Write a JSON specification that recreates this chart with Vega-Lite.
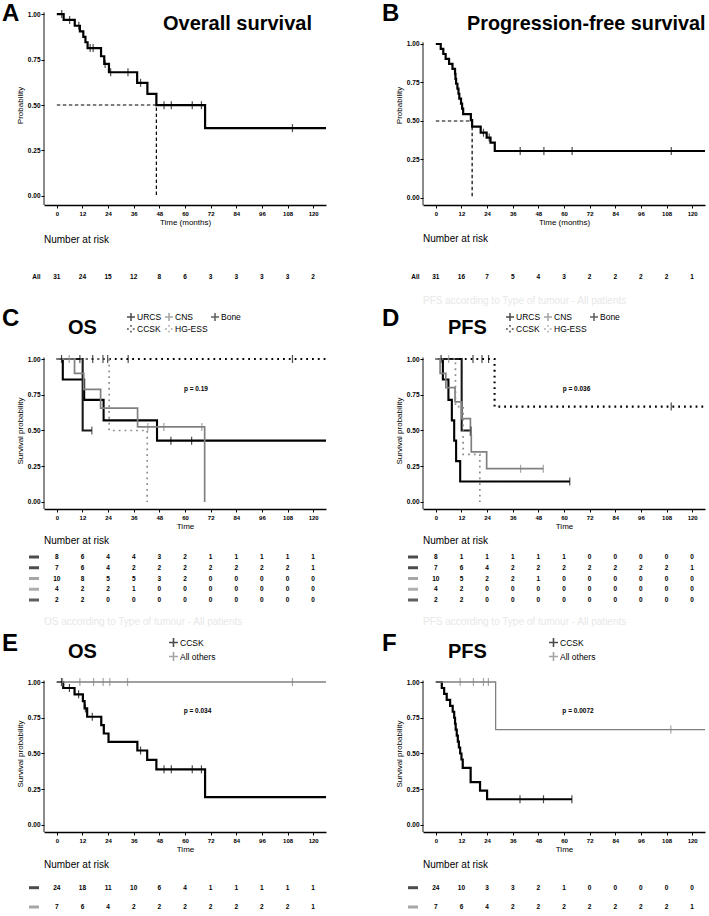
{
"$schema":"https://vega.github.io/schema/vega-lite/v6.json",
"padding":{"left":1,"top":1,"right":0,"bottom":0},
"background":"white",
"config":{
 "view":{"stroke":null},
 "font":"Liberation Sans",
 "axis":{"domainColor":"#000","domainWidth":1.3,"tickColor":"#000","tickSize":3,"tickWidth":1,"tickCount":30,"labelFont":"Liberation Sans","labelFontSize":6.5,"labelFontWeight":"bold","labelColor":"#000","labelPadding":2,"titleFont":"Liberation Sans","titleFontSize":8,"titleFontWeight":"normal","titleColor":"#000","titlePadding":3,"grid":false,"labelFlush":false,"labelOverlap":false,"labelBound":false},
 "axisX":{"labelFontSize":6,"titlePadding":2},
 "axisY":{"labelPadding":1},
 "legend":{"padding":0,"labelFont":"Liberation Sans","labelColor":"#000","labelFontSize":8.5,"labelOffset":1},
 "title":{"font":"Liberation Sans","fontSize":10,"fontWeight":"normal","color":"#000","anchor":"start","frame":"group","subtitleFont":"Liberation Sans","subtitleFontSize":10,"subtitleColor":"#e8e8e8"},
 "text":{"font":"Liberation Sans","color":"#000"}
},
"datasets":{
"km":[
{"panel":"A","strata":"All","time":0,"surv":1},{"panel":"A","strata":"All","time":3.2,"surv":0.968},{"panel":"A","strata":"All","time":8.4,"surv":0.936},{"panel":"A","strata":"All","time":10.8,"surv":0.905},{"panel":"A","strata":"All","time":12.4,"surv":0.875},{"panel":"A","strata":"All","time":13.4,"surv":0.845},{"panel":"A","strata":"All","time":14.4,"surv":0.813},{"panel":"A","strata":"All","time":20.7,"surv":0.768},{"panel":"A","strata":"All","time":22.2,"surv":0.726},{"panel":"A","strata":"All","time":24.4,"surv":0.68},{"panel":"A","strata":"All","time":37.6,"surv":0.622},{"panel":"A","strata":"All","time":42.4,"surv":0.561},{"panel":"A","strata":"All","time":46.6,"surv":0.499},{"panel":"A","strata":"All","time":69.4,"surv":0.373},{"panel":"A","strata":"All","time":126,"surv":0.373},
{"panel":"B","strata":"All","time":0,"surv":1},{"panel":"B","strata":"All","time":2.3,"surv":0.968},{"panel":"B","strata":"All","time":3.5,"surv":0.935},{"panel":"B","strata":"All","time":4.6,"surv":0.903},{"panel":"B","strata":"All","time":6.2,"surv":0.871},{"panel":"B","strata":"All","time":7.8,"surv":0.839},{"panel":"B","strata":"All","time":9.0,"surv":0.806},{"panel":"B","strata":"All","time":9.2,"surv":0.774},{"panel":"B","strata":"All","time":9.5,"surv":0.742},{"panel":"B","strata":"All","time":10.1,"surv":0.71},{"panel":"B","strata":"All","time":10.6,"surv":0.677},{"panel":"B","strata":"All","time":11.0,"surv":0.645},{"panel":"B","strata":"All","time":11.8,"surv":0.613},{"panel":"B","strata":"All","time":12.3,"surv":0.58},{"panel":"B","strata":"All","time":12.8,"surv":0.545},{"panel":"B","strata":"All","time":16.4,"surv":0.505},{"panel":"B","strata":"All","time":17.0,"surv":0.464},{"panel":"B","strata":"All","time":21.0,"surv":0.424},{"panel":"B","strata":"All","time":23.8,"surv":0.392},{"panel":"B","strata":"All","time":25.6,"surv":0.36},{"panel":"B","strata":"All","time":27.6,"surv":0.305},{"panel":"B","strata":"All","time":126,"surv":0.305},
{"panel":"C","strata":"URCS","time":0,"surv":1},{"panel":"C","strata":"URCS","time":2.8,"surv":0.857},{"panel":"C","strata":"URCS","time":12.8,"surv":0.714},{"panel":"C","strata":"URCS","time":21.9,"surv":0.571},{"panel":"C","strata":"URCS","time":46.9,"surv":0.429},{"panel":"C","strata":"URCS","time":126,"surv":0.429},
{"panel":"C","strata":"CNS","time":0,"surv":1},{"panel":"C","strata":"CNS","time":8.3,"surv":0.9},{"panel":"C","strata":"CNS","time":12.6,"surv":0.787},{"panel":"C","strata":"CNS","time":20.5,"surv":0.656},{"panel":"C","strata":"CNS","time":37.8,"surv":0.525},{"panel":"C","strata":"CNS","time":69.2,"surv":0},
{"panel":"C","strata":"Bone","time":0,"surv":1},{"panel":"C","strata":"Bone","time":12.1,"surv":0.5},{"panel":"C","strata":"Bone","time":16.4,"surv":0.5},
{"panel":"C","strata":"CCSK","time":0,"surv":1},{"panel":"C","strata":"CCSK","time":126,"surv":1},
{"panel":"C","strata":"HG-ESS","time":0,"surv":1},{"panel":"C","strata":"HG-ESS","time":24.5,"surv":0.5},{"panel":"C","strata":"HG-ESS","time":42.3,"surv":0},
{"panel":"D","strata":"URCS","time":0,"surv":1},{"panel":"D","strata":"URCS","time":3.3,"surv":0.857},{"panel":"D","strata":"URCS","time":5.9,"surv":0.714},{"panel":"D","strata":"URCS","time":7.5,"surv":0.571},{"panel":"D","strata":"URCS","time":8.6,"surv":0.429},{"panel":"D","strata":"URCS","time":9.5,"surv":0.286},{"panel":"D","strata":"URCS","time":11.4,"surv":0.143},{"panel":"D","strata":"URCS","time":62.7,"surv":0.143},
{"panel":"D","strata":"CNS","time":0,"surv":1},{"panel":"D","strata":"CNS","time":2.0,"surv":0.9},{"panel":"D","strata":"CNS","time":4.7,"surv":0.8},{"panel":"D","strata":"CNS","time":9.0,"surv":0.7},{"panel":"D","strata":"CNS","time":12.1,"surv":0.583},{"panel":"D","strata":"CNS","time":16.2,"surv":0.467},{"panel":"D","strata":"CNS","time":16.6,"surv":0.35},{"panel":"D","strata":"CNS","time":23.8,"surv":0.233},{"panel":"D","strata":"CNS","time":50.3,"surv":0.233},
{"panel":"D","strata":"Bone","time":0,"surv":1},{"panel":"D","strata":"Bone","time":12.1,"surv":0.5},{"panel":"D","strata":"Bone","time":16.5,"surv":0.5},
{"panel":"D","strata":"CCSK","time":0,"surv":1},{"panel":"D","strata":"CCSK","time":27.5,"surv":0.667},{"panel":"D","strata":"CCSK","time":126,"surv":0.667},
{"panel":"D","strata":"HG-ESS","time":0,"surv":1},{"panel":"D","strata":"HG-ESS","time":9.2,"surv":0.667},{"panel":"D","strata":"HG-ESS","time":12.8,"surv":0.333},{"panel":"D","strata":"HG-ESS","time":20.6,"surv":0},
{"panel":"E","strata":"CCSK","time":0,"surv":1},{"panel":"E","strata":"CCSK","time":3.0,"surv":0.958},{"panel":"E","strata":"CCSK","time":8.3,"surv":0.914},{"panel":"E","strata":"CCSK","time":12.2,"surv":0.866},{"panel":"E","strata":"CCSK","time":13.0,"surv":0.815},{"panel":"E","strata":"CCSK","time":14.2,"surv":0.757},{"panel":"E","strata":"CCSK","time":20.8,"surv":0.699},{"panel":"E","strata":"CCSK","time":22.0,"surv":0.64},{"panel":"E","strata":"CCSK","time":24.2,"surv":0.582},{"panel":"E","strata":"CCSK","time":37.7,"surv":0.521},{"panel":"E","strata":"CCSK","time":42.3,"surv":0.456},{"panel":"E","strata":"CCSK","time":46.6,"surv":0.389},{"panel":"E","strata":"CCSK","time":69.4,"surv":0.195},{"panel":"E","strata":"CCSK","time":126,"surv":0.195},
{"panel":"E","strata":"All others","time":0,"surv":1},{"panel":"E","strata":"All others","time":126,"surv":1},
{"panel":"F","strata":"CCSK","time":0,"surv":1},{"panel":"F","strata":"CCSK","time":2.8,"surv":0.958},{"panel":"F","strata":"CCSK","time":3.9,"surv":0.917},{"panel":"F","strata":"CCSK","time":5.1,"surv":0.875},{"panel":"F","strata":"CCSK","time":6.7,"surv":0.833},{"panel":"F","strata":"CCSK","time":7.9,"surv":0.792},{"panel":"F","strata":"CCSK","time":8.6,"surv":0.75},{"panel":"F","strata":"CCSK","time":9.0,"surv":0.708},{"panel":"F","strata":"CCSK","time":9.3,"surv":0.667},{"panel":"F","strata":"CCSK","time":9.8,"surv":0.625},{"panel":"F","strata":"CCSK","time":10.3,"surv":0.583},{"panel":"F","strata":"CCSK","time":10.8,"surv":0.542},{"panel":"F","strata":"CCSK","time":11.4,"surv":0.5},{"panel":"F","strata":"CCSK","time":12.0,"surv":0.458},{"panel":"F","strata":"CCSK","time":12.6,"surv":0.4},{"panel":"F","strata":"CCSK","time":16.3,"surv":0.3},{"panel":"F","strata":"CCSK","time":20.7,"surv":0.24},{"panel":"F","strata":"CCSK","time":24.0,"surv":0.18},{"panel":"F","strata":"CCSK","time":63.7,"surv":0.18},
{"panel":"F","strata":"All others","time":0,"surv":1},{"panel":"F","strata":"All others","time":28.0,"surv":0.667},{"panel":"F","strata":"All others","time":126,"surv":0.667}
],
"cens":[
{"panel":"A","strata":"All","time":2.3,"surv":1},{"panel":"A","strata":"All","time":6.0,"surv":0.968},{"panel":"A","strata":"All","time":10.3,"surv":0.936},{"panel":"A","strata":"All","time":15.6,"surv":0.813},{"panel":"A","strata":"All","time":17.0,"surv":0.813},{"panel":"A","strata":"All","time":22.6,"surv":0.726},{"panel":"A","strata":"All","time":25.2,"surv":0.68},{"panel":"A","strata":"All","time":33.3,"surv":0.68},{"panel":"A","strata":"All","time":39.2,"surv":0.622},{"panel":"A","strata":"All","time":50.2,"surv":0.499},{"panel":"A","strata":"All","time":53.6,"surv":0.499},{"panel":"A","strata":"All","time":63.4,"surv":0.499},{"panel":"A","strata":"All","time":67.7,"surv":0.499},{"panel":"A","strata":"All","time":110.3,"surv":0.373},
{"panel":"B","strata":"All","time":22.3,"surv":0.424},{"panel":"B","strata":"All","time":25.0,"surv":0.392},{"panel":"B","strata":"All","time":39.5,"surv":0.305},{"panel":"B","strata":"All","time":50.6,"surv":0.305},{"panel":"B","strata":"All","time":63.8,"surv":0.305},{"panel":"B","strata":"All","time":110.2,"surv":0.305},
{"panel":"C","strata":"URCS","time":2.2,"surv":1},{"panel":"C","strata":"URCS","time":53.4,"surv":0.429},{"panel":"C","strata":"URCS","time":63.1,"surv":0.429},
{"panel":"C","strata":"CNS","time":5.8,"surv":1},{"panel":"C","strata":"CNS","time":42.6,"surv":0.525},{"panel":"C","strata":"CNS","time":50.1,"surv":0.525},{"panel":"C","strata":"CNS","time":67.9,"surv":0.525},
{"panel":"C","strata":"Bone","time":16.4,"surv":0.5},
{"panel":"C","strata":"CCSK","time":10.8,"surv":1},{"panel":"C","strata":"CCSK","time":16.8,"surv":1},{"panel":"C","strata":"CCSK","time":21.6,"surv":1},{"panel":"C","strata":"CCSK","time":23.8,"surv":1},{"panel":"C","strata":"CCSK","time":33.4,"surv":1},{"panel":"C","strata":"CCSK","time":110.3,"surv":1},
{"panel":"D","strata":"URCS","time":2.5,"surv":1},{"panel":"D","strata":"URCS","time":62.7,"surv":0.143},
{"panel":"D","strata":"CNS","time":39.7,"surv":0.233},{"panel":"D","strata":"CNS","time":50.3,"surv":0.233},
{"panel":"D","strata":"Bone","time":16.5,"surv":0.5},
{"panel":"D","strata":"CCSK","time":17.4,"surv":1},{"panel":"D","strata":"CCSK","time":21.6,"surv":1},{"panel":"D","strata":"CCSK","time":24.7,"surv":1},{"panel":"D","strata":"CCSK","time":110.2,"surv":0.667},
{"panel":"D","strata":"HG-ESS","time":2.2,"surv":1},{"panel":"D","strata":"HG-ESS","time":6.0,"surv":1},
{"panel":"E","strata":"All others","time":2.7,"surv":1},{"panel":"E","strata":"All others","time":10.8,"surv":1},{"panel":"E","strata":"All others","time":17.2,"surv":1},{"panel":"E","strata":"All others","time":21.7,"surv":1},{"panel":"E","strata":"All others","time":24.8,"surv":1},{"panel":"E","strata":"All others","time":33.1,"surv":1},{"panel":"E","strata":"All others","time":110.3,"surv":1},
{"panel":"E","strata":"CCSK","time":2.2,"surv":1},{"panel":"E","strata":"CCSK","time":5.9,"surv":0.958},{"panel":"E","strata":"CCSK","time":10.2,"surv":0.914},{"panel":"E","strata":"CCSK","time":13.4,"surv":0.815},{"panel":"E","strata":"CCSK","time":16.6,"surv":0.757},{"panel":"E","strata":"CCSK","time":39.2,"surv":0.521},{"panel":"E","strata":"CCSK","time":50.2,"surv":0.389},{"panel":"E","strata":"CCSK","time":53.6,"surv":0.389},{"panel":"E","strata":"CCSK","time":63.4,"surv":0.389},{"panel":"E","strata":"CCSK","time":67.7,"surv":0.389},
{"panel":"F","strata":"All others","time":11.4,"surv":1},{"panel":"F","strata":"All others","time":17.6,"surv":1},{"panel":"F","strata":"All others","time":22.3,"surv":1},{"panel":"F","strata":"All others","time":24.6,"surv":1},{"panel":"F","strata":"All others","time":110.0,"surv":0.667},
{"panel":"F","strata":"CCSK","time":39.4,"surv":0.18},{"panel":"F","strata":"CCSK","time":50.4,"surv":0.18},{"panel":"F","strata":"CCSK","time":63.7,"surv":0.18}
],
"med":[{"panel":"A","time":0,"surv":0.5},{"panel":"A","time":46.6,"surv":0},{"panel":"B","time":0,"surv":0.5},{"panel":"B","time":17.0,"surv":0}],
"risk":[
{"panel":"A","strata":"All","time":0,"n":31},{"panel":"A","strata":"All","time":12,"n":24},{"panel":"A","strata":"All","time":24,"n":15},{"panel":"A","strata":"All","time":36,"n":12},{"panel":"A","strata":"All","time":48,"n":8},{"panel":"A","strata":"All","time":60,"n":6},{"panel":"A","strata":"All","time":72,"n":3},{"panel":"A","strata":"All","time":84,"n":3},{"panel":"A","strata":"All","time":96,"n":3},{"panel":"A","strata":"All","time":108,"n":3},{"panel":"A","strata":"All","time":120,"n":2},
{"panel":"B","strata":"All","time":0,"n":31},{"panel":"B","strata":"All","time":12,"n":16},{"panel":"B","strata":"All","time":24,"n":7},{"panel":"B","strata":"All","time":36,"n":5},{"panel":"B","strata":"All","time":48,"n":4},{"panel":"B","strata":"All","time":60,"n":3},{"panel":"B","strata":"All","time":72,"n":2},{"panel":"B","strata":"All","time":84,"n":2},{"panel":"B","strata":"All","time":96,"n":2},{"panel":"B","strata":"All","time":108,"n":2},{"panel":"B","strata":"All","time":120,"n":1},
{"panel":"C","strata":"URCS","time":0,"n":8},{"panel":"C","strata":"URCS","time":12,"n":6},{"panel":"C","strata":"URCS","time":24,"n":4},{"panel":"C","strata":"URCS","time":36,"n":4},{"panel":"C","strata":"URCS","time":48,"n":3},{"panel":"C","strata":"URCS","time":60,"n":2},{"panel":"C","strata":"URCS","time":72,"n":1},{"panel":"C","strata":"URCS","time":84,"n":1},{"panel":"C","strata":"URCS","time":96,"n":1},{"panel":"C","strata":"URCS","time":108,"n":1},{"panel":"C","strata":"URCS","time":120,"n":1},
{"panel":"C","strata":"CCSK","time":0,"n":7},{"panel":"C","strata":"CCSK","time":12,"n":6},{"panel":"C","strata":"CCSK","time":24,"n":4},{"panel":"C","strata":"CCSK","time":36,"n":2},{"panel":"C","strata":"CCSK","time":48,"n":2},{"panel":"C","strata":"CCSK","time":60,"n":2},{"panel":"C","strata":"CCSK","time":72,"n":2},{"panel":"C","strata":"CCSK","time":84,"n":2},{"panel":"C","strata":"CCSK","time":96,"n":2},{"panel":"C","strata":"CCSK","time":108,"n":2},{"panel":"C","strata":"CCSK","time":120,"n":1},
{"panel":"C","strata":"CNS","time":0,"n":10},{"panel":"C","strata":"CNS","time":12,"n":8},{"panel":"C","strata":"CNS","time":24,"n":5},{"panel":"C","strata":"CNS","time":36,"n":5},{"panel":"C","strata":"CNS","time":48,"n":3},{"panel":"C","strata":"CNS","time":60,"n":2},{"panel":"C","strata":"CNS","time":72,"n":0},{"panel":"C","strata":"CNS","time":84,"n":0},{"panel":"C","strata":"CNS","time":96,"n":0},{"panel":"C","strata":"CNS","time":108,"n":0},{"panel":"C","strata":"CNS","time":120,"n":0},
{"panel":"C","strata":"HG-ESS","time":0,"n":4},{"panel":"C","strata":"HG-ESS","time":12,"n":2},{"panel":"C","strata":"HG-ESS","time":24,"n":2},{"panel":"C","strata":"HG-ESS","time":36,"n":1},{"panel":"C","strata":"HG-ESS","time":48,"n":0},{"panel":"C","strata":"HG-ESS","time":60,"n":0},{"panel":"C","strata":"HG-ESS","time":72,"n":0},{"panel":"C","strata":"HG-ESS","time":84,"n":0},{"panel":"C","strata":"HG-ESS","time":96,"n":0},{"panel":"C","strata":"HG-ESS","time":108,"n":0},{"panel":"C","strata":"HG-ESS","time":120,"n":0},
{"panel":"C","strata":"Bone","time":0,"n":2},{"panel":"C","strata":"Bone","time":12,"n":2},{"panel":"C","strata":"Bone","time":24,"n":0},{"panel":"C","strata":"Bone","time":36,"n":0},{"panel":"C","strata":"Bone","time":48,"n":0},{"panel":"C","strata":"Bone","time":60,"n":0},{"panel":"C","strata":"Bone","time":72,"n":0},{"panel":"C","strata":"Bone","time":84,"n":0},{"panel":"C","strata":"Bone","time":96,"n":0},{"panel":"C","strata":"Bone","time":108,"n":0},{"panel":"C","strata":"Bone","time":120,"n":0},
{"panel":"D","strata":"URCS","time":0,"n":8},{"panel":"D","strata":"URCS","time":12,"n":1},{"panel":"D","strata":"URCS","time":24,"n":1},{"panel":"D","strata":"URCS","time":36,"n":1},{"panel":"D","strata":"URCS","time":48,"n":1},{"panel":"D","strata":"URCS","time":60,"n":1},{"panel":"D","strata":"URCS","time":72,"n":0},{"panel":"D","strata":"URCS","time":84,"n":0},{"panel":"D","strata":"URCS","time":96,"n":0},{"panel":"D","strata":"URCS","time":108,"n":0},{"panel":"D","strata":"URCS","time":120,"n":0},
{"panel":"D","strata":"CCSK","time":0,"n":7},{"panel":"D","strata":"CCSK","time":12,"n":6},{"panel":"D","strata":"CCSK","time":24,"n":4},{"panel":"D","strata":"CCSK","time":36,"n":2},{"panel":"D","strata":"CCSK","time":48,"n":2},{"panel":"D","strata":"CCSK","time":60,"n":2},{"panel":"D","strata":"CCSK","time":72,"n":2},{"panel":"D","strata":"CCSK","time":84,"n":2},{"panel":"D","strata":"CCSK","time":96,"n":2},{"panel":"D","strata":"CCSK","time":108,"n":2},{"panel":"D","strata":"CCSK","time":120,"n":1},
{"panel":"D","strata":"CNS","time":0,"n":10},{"panel":"D","strata":"CNS","time":12,"n":5},{"panel":"D","strata":"CNS","time":24,"n":2},{"panel":"D","strata":"CNS","time":36,"n":2},{"panel":"D","strata":"CNS","time":48,"n":1},{"panel":"D","strata":"CNS","time":60,"n":0},{"panel":"D","strata":"CNS","time":72,"n":0},{"panel":"D","strata":"CNS","time":84,"n":0},{"panel":"D","strata":"CNS","time":96,"n":0},{"panel":"D","strata":"CNS","time":108,"n":0},{"panel":"D","strata":"CNS","time":120,"n":0},
{"panel":"D","strata":"HG-ESS","time":0,"n":4},{"panel":"D","strata":"HG-ESS","time":12,"n":2},{"panel":"D","strata":"HG-ESS","time":24,"n":0},{"panel":"D","strata":"HG-ESS","time":36,"n":0},{"panel":"D","strata":"HG-ESS","time":48,"n":0},{"panel":"D","strata":"HG-ESS","time":60,"n":0},{"panel":"D","strata":"HG-ESS","time":72,"n":0},{"panel":"D","strata":"HG-ESS","time":84,"n":0},{"panel":"D","strata":"HG-ESS","time":96,"n":0},{"panel":"D","strata":"HG-ESS","time":108,"n":0},{"panel":"D","strata":"HG-ESS","time":120,"n":0},
{"panel":"D","strata":"Bone","time":0,"n":2},{"panel":"D","strata":"Bone","time":12,"n":2},{"panel":"D","strata":"Bone","time":24,"n":0},{"panel":"D","strata":"Bone","time":36,"n":0},{"panel":"D","strata":"Bone","time":48,"n":0},{"panel":"D","strata":"Bone","time":60,"n":0},{"panel":"D","strata":"Bone","time":72,"n":0},{"panel":"D","strata":"Bone","time":84,"n":0},{"panel":"D","strata":"Bone","time":96,"n":0},{"panel":"D","strata":"Bone","time":108,"n":0},{"panel":"D","strata":"Bone","time":120,"n":0},
{"panel":"E","strata":"CCSK","time":0,"n":24},{"panel":"E","strata":"CCSK","time":12,"n":18},{"panel":"E","strata":"CCSK","time":24,"n":11},{"panel":"E","strata":"CCSK","time":36,"n":10},{"panel":"E","strata":"CCSK","time":48,"n":6},{"panel":"E","strata":"CCSK","time":60,"n":4},{"panel":"E","strata":"CCSK","time":72,"n":1},{"panel":"E","strata":"CCSK","time":84,"n":1},{"panel":"E","strata":"CCSK","time":96,"n":1},{"panel":"E","strata":"CCSK","time":108,"n":1},{"panel":"E","strata":"CCSK","time":120,"n":1},
{"panel":"E","strata":"All others","time":0,"n":7},{"panel":"E","strata":"All others","time":12,"n":6},{"panel":"E","strata":"All others","time":24,"n":4},{"panel":"E","strata":"All others","time":36,"n":2},{"panel":"E","strata":"All others","time":48,"n":2},{"panel":"E","strata":"All others","time":60,"n":2},{"panel":"E","strata":"All others","time":72,"n":2},{"panel":"E","strata":"All others","time":84,"n":2},{"panel":"E","strata":"All others","time":96,"n":2},{"panel":"E","strata":"All others","time":108,"n":2},{"panel":"E","strata":"All others","time":120,"n":1},
{"panel":"F","strata":"CCSK","time":0,"n":24},{"panel":"F","strata":"CCSK","time":12,"n":10},{"panel":"F","strata":"CCSK","time":24,"n":3},{"panel":"F","strata":"CCSK","time":36,"n":3},{"panel":"F","strata":"CCSK","time":48,"n":2},{"panel":"F","strata":"CCSK","time":60,"n":1},{"panel":"F","strata":"CCSK","time":72,"n":0},{"panel":"F","strata":"CCSK","time":84,"n":0},{"panel":"F","strata":"CCSK","time":96,"n":0},{"panel":"F","strata":"CCSK","time":108,"n":0},{"panel":"F","strata":"CCSK","time":120,"n":0},
{"panel":"F","strata":"All others","time":0,"n":7},{"panel":"F","strata":"All others","time":12,"n":6},{"panel":"F","strata":"All others","time":24,"n":4},{"panel":"F","strata":"All others","time":36,"n":2},{"panel":"F","strata":"All others","time":48,"n":2},{"panel":"F","strata":"All others","time":60,"n":2},{"panel":"F","strata":"All others","time":72,"n":2},{"panel":"F","strata":"All others","time":84,"n":2},{"panel":"F","strata":"All others","time":96,"n":2},{"panel":"F","strata":"All others","time":108,"n":2},{"panel":"F","strata":"All others","time":120,"n":1}
]
},
"columns":2,
"spacing":{"row":0,"column":97},
"bounds":"flush",
"resolve":{"scale":{"color":"independent","strokeDash":"independent"}},
"concat":[
{"width":282,"height":200,"layer":[
 {"data":{"name":"km"},"transform":[{"filter":"datum.panel==='A'"}],"mark":{"type":"line","interpolate":"step-after","color":"#000","strokeWidth":2.2},
  "encoding":{"x":{"field":"time","type":"quantitative","title":"Time (months)","scale":{"domain":[-6,126],"nice":false,"zero":false},"axis":{"values":[0,12,24,36,48,60,72,84,96,108,120],"tickCount":30,"labelOverlap":false,"labelFlush":false}},
   "y":{"field":"surv","type":"quantitative","title":"Probability","scale":{"domain":[-0.05,1.05],"nice":false,"zero":false},"axis":{"values":[0,0.25,0.5,0.75,1],"tickCount":30,"format":".2f","domain":false,"labelOverlap":false,"labelFlush":false}}}},
 {"data":{"name":"cens"},"transform":[{"filter":"datum.panel==='A'"}],"mark":{"type":"tick","orient":"vertical","size":8,"thickness":1.2,"color":"#000"},
  "encoding":{"x":{"field":"time","type":"quantitative","title":"Time (months)"},"y":{"field":"surv","type":"quantitative","title":"Probability"}}},
 {"data":{"name":"med"},"transform":[{"filter":"datum.panel==='A'"}],"mark":{"type":"line","interpolate":"step-after","color":"#000","strokeWidth":1.2,"strokeDash":[3.5,2.5]},
  "encoding":{"x":{"field":"time","type":"quantitative","title":"Time (months)"},"y":{"field":"surv","type":"quantitative","title":"Probability"}}},
 {"data":{"values":[{}]},"mark":{"type":"tick","orient":"vertical","size":192.7,"thickness":1.3,"color":"#000"},"encoding":{"x":{"datum":-6,"type":"quantitative"},"y":{"datum":0.48,"type":"quantitative"}}},
 {"data":{"values":[{}]},"mark":{"type":"text","text":"A","fontSize":24,"fontWeight":"bold","align":"left","baseline":"alphabetic"},"encoding":{"x":{"datum":-25.66,"type":"quantitative"},"y":{"datum":0.962,"type":"quantitative"}}},
 {"data":{"values":[{}]},"mark":{"type":"text","text":"Overall survival","fontSize":20,"fontWeight":"bold","align":"left","baseline":"alphabetic"},"encoding":{"x":{"datum":49.7,"type":"quantitative"},"y":{"datum":0.911,"type":"quantitative"}}}
]},
{"width":282,"height":200,"layer":[
 {"data":{"name":"km"},"transform":[{"filter":"datum.panel==='B'"}],"mark":{"type":"line","interpolate":"step-after","color":"#000","strokeWidth":2.2},
  "encoding":{"x":{"field":"time","type":"quantitative","title":"Time (months)","scale":{"domain":[-6,126],"nice":false,"zero":false},"axis":{"values":[0,12,24,36,48,60,72,84,96,108,120],"tickCount":30,"labelOverlap":false,"labelFlush":false}},
   "y":{"field":"surv","type":"quantitative","title":"Probability","scale":{"domain":[-0.0455,1.2532],"nice":false,"zero":false},"axis":{"values":[0,0.25,0.5,0.75,1],"tickCount":30,"format":".2f","domain":false,"labelOverlap":false,"labelFlush":false}}}},
 {"data":{"name":"cens"},"transform":[{"filter":"datum.panel==='B'"}],"mark":{"type":"tick","orient":"vertical","size":8,"thickness":1.2,"color":"#000"},
  "encoding":{"x":{"field":"time","type":"quantitative","title":"Time (months)"},"y":{"field":"surv","type":"quantitative","title":"Probability"}}},
 {"data":{"name":"med"},"transform":[{"filter":"datum.panel==='B'"}],"mark":{"type":"line","interpolate":"step-after","color":"#000","strokeWidth":1.2,"strokeDash":[3.5,2.5]},
  "encoding":{"x":{"field":"time","type":"quantitative","title":"Time (months)"},"y":{"field":"surv","type":"quantitative","title":"Probability"}}},
 {"data":{"values":[{}]},"mark":{"type":"tick","orient":"vertical","size":163,"thickness":1.3,"color":"#000"},"encoding":{"x":{"datum":-6,"type":"quantitative"},"y":{"datum":0.4823,"type":"quantitative"}}},
 {"data":{"values":[{}]},"mark":{"type":"text","text":"B","fontSize":24,"fontWeight":"bold","align":"left","baseline":"alphabetic"},"encoding":{"x":{"datum":-25.19,"type":"quantitative"},"y":{"datum":1.1495,"type":"quantitative"}}},
 {"data":{"values":[{}]},"mark":{"type":"text","text":"Progression-free survival","fontSize":19.8,"fontWeight":"bold","align":"left","baseline":"alphabetic"},"encoding":{"x":{"datum":14.6,"type":"quantitative"},"y":{"datum":1.089,"type":"quantitative"}}}
]},
{"width":282,"height":147,"title":{"text":"Number at risk","offset":-39.5},"layer":[
 {"data":{"name":"risk"},"transform":[{"filter":"datum.panel==='A'"}],"mark":{"type":"text","fontSize":6.5,"fontWeight":"bold","align":"center","baseline":"middle"},
  "encoding":{"x":{"field":"time","type":"quantitative","scale":{"domain":[-6,126],"nice":false,"zero":false},"axis":null},"y":{"field":"strata","type":"nominal","scale":{"type":"point","domain":["All"],"padding":0.5,"align":0.49,"round":false},"axis":null},"text":{"field":"n","type":"nominal"}}},
 {"data":{"name":"risk"},"transform":[{"filter":"datum.panel==='A' && datum.time===0"}],"mark":{"type":"text","fontSize":6.5,"fontWeight":"bold","align":"center","baseline":"middle"},
  "encoding":{"x":{"datum":-9.5,"type":"quantitative","axis":null},"y":{"field":"strata","type":"nominal","axis":null},"text":{"field":"strata","type":"nominal"}}}
]},
{"width":282,"height":147,"title":{"text":"Number at risk","subtitle":"PFS according to Type of tumour - All patients","offset":-100.5,"subtitlePadding":52},"layer":[
 {"data":{"name":"risk"},"transform":[{"filter":"datum.panel==='B'"}],"mark":{"type":"text","fontSize":6.5,"fontWeight":"bold","align":"center","baseline":"middle"},
  "encoding":{"x":{"field":"time","type":"quantitative","scale":{"domain":[-6,126],"nice":false,"zero":false},"axis":null},"y":{"field":"strata","type":"nominal","scale":{"type":"point","domain":["All"],"padding":0.5,"align":0.49,"round":false},"axis":null},"text":{"field":"n","type":"nominal"}}},
 {"data":{"name":"risk"},"transform":[{"filter":"datum.panel==='B' && datum.time===0"}],"mark":{"type":"text","fontSize":6.5,"fontWeight":"bold","align":"center","baseline":"middle"},
  "encoding":{"x":{"datum":-9.5,"type":"quantitative","axis":null},"y":{"field":"strata","type":"nominal","axis":null},"text":{"field":"strata","type":"nominal"}}}
]},
{"width":282,"height":157,"layer":[
 {"data":{"name":"km"},"transform":[{"filter":"datum.panel==='C' && (datum.strata==='URCS' || datum.strata==='Bone' || datum.strata==='CCSK')"}],"mark":{"type":"line","interpolate":"step-after","strokeWidth":2.1},
  "encoding":{"x":{"field":"time","type":"quantitative","title":"Time","scale":{"domain":[-6,126],"nice":false,"zero":false},"axis":{"values":[0,12,24,36,48,60,72,84,96,108,120],"tickCount":30,"labelOverlap":false,"labelFlush":false}},
   "y":{"field":"surv","type":"quantitative","title":"Survival probability","scale":{"domain":[-0.049,1.049],"nice":false,"zero":false},"axis":{"values":[0,0.25,0.5,0.75,1],"tickCount":30,"format":".2f","domain":false,"labelOverlap":false,"labelFlush":false}},
   "color":{"field":"strata","type":"nominal","scale":{"domain":["URCS","CNS","Bone","CCSK","HG-ESS"],"range":["#000000","#808080","#1a1a1a","#000000","#8c8c8c"]},"legend":{"title":null,"orient":"none","legendX":82,"legendY":-40,"direction":"horizontal","columns":3,"symbolType":"M-1,0H1M0,-1V1","symbolSize":64,"symbolStrokeWidth":1.5,"columnPadding":0,"rowPadding":-2}},
   "strokeDash":{"field":"strata","type":"nominal","scale":{"domain":["URCS","CNS","Bone","CCSK","HG-ESS"],"range":[[1,0],[1,0],[1,0],[1.8,4],[1.8,4]]},"legend":{"title":null,"orient":"none","legendX":82,"legendY":-40,"direction":"horizontal","columns":3,"symbolType":"M-1,0H1M0,-1V1","symbolSize":64,"symbolStrokeWidth":1.5,"columnPadding":0,"rowPadding":-2}}}},
 {"data":{"name":"km"},"transform":[{"filter":"datum.panel==='C' && (datum.strata==='CNS' || datum.strata==='HG-ESS')"}],"mark":{"type":"line","interpolate":"step-after","strokeWidth":1.7},
  "encoding":{"x":{"field":"time","type":"quantitative","title":"Time"},"y":{"field":"surv","type":"quantitative","title":"Survival probability"},
   "color":{"field":"strata","type":"nominal"},"strokeDash":{"field":"strata","type":"nominal"}}},
 {"data":{"name":"cens"},"transform":[{"filter":"datum.panel==='C'"}],"mark":{"type":"tick","orient":"vertical","size":8,"thickness":1.2},
  "encoding":{"x":{"field":"time","type":"quantitative","title":"Time"},"y":{"field":"surv","type":"quantitative","title":"Survival probability"},"color":{"field":"strata","type":"nominal"}}},
 {"data":{"values":[{}]},"mark":{"type":"tick","orient":"vertical","size":151.4,"thickness":1.3,"color":"#000"},"encoding":{"x":{"datum":-6,"type":"quantitative"},"y":{"datum":0.4805,"type":"quantitative"}}},
 {"data":{"values":[{}]},"mark":{"type":"text","text":"C","fontSize":24,"fontWeight":"bold","align":"left","baseline":"alphabetic"},"encoding":{"x":{"datum":-25.66,"type":"quantitative"},"y":{"datum":1.231,"type":"quantitative"}}},
 {"data":{"values":[{}]},"mark":{"type":"text","text":"OS","fontSize":20,"fontWeight":"bold","align":"left","baseline":"alphabetic"},"encoding":{"x":{"datum":5.23,"type":"quantitative"},"y":{"datum":1.173,"type":"quantitative"}}},
 {"data":{"values":[{}]},"mark":{"type":"text","text":"p = 0.19","fontSize":6.5,"fontWeight":"bold","align":"center","baseline":"middle"},"encoding":{"x":{"datum":65.1,"type":"quantitative"},"y":{"datum":0.79,"type":"quantitative"}}}
]},
{"width":282,"height":157,"layer":[
 {"data":{"name":"km"},"transform":[{"filter":"datum.panel==='D' && (datum.strata==='URCS' || datum.strata==='Bone' || datum.strata==='CCSK')"}],"mark":{"type":"line","interpolate":"step-after","strokeWidth":2.1},
  "encoding":{"x":{"field":"time","type":"quantitative","title":"Time","scale":{"domain":[-6,126],"nice":false,"zero":false},"axis":{"values":[0,12,24,36,48,60,72,84,96,108,120],"tickCount":30,"labelOverlap":false,"labelFlush":false}},
   "y":{"field":"surv","type":"quantitative","title":"Survival probability","scale":{"domain":[-0.049,1.049],"nice":false,"zero":false},"axis":{"values":[0,0.25,0.5,0.75,1],"tickCount":30,"format":".2f","domain":false,"labelOverlap":false,"labelFlush":false}},
   "color":{"field":"strata","type":"nominal","scale":{"domain":["URCS","CNS","Bone","CCSK","HG-ESS"],"range":["#000000","#808080","#1a1a1a","#000000","#8c8c8c"]},"legend":{"title":null,"orient":"none","legendX":82,"legendY":-40,"direction":"horizontal","columns":3,"symbolType":"M-1,0H1M0,-1V1","symbolSize":64,"symbolStrokeWidth":1.5,"columnPadding":0,"rowPadding":-2}},
   "strokeDash":{"field":"strata","type":"nominal","scale":{"domain":["URCS","CNS","Bone","CCSK","HG-ESS"],"range":[[1,0],[1,0],[1,0],[1.8,4],[1.8,4]]},"legend":{"title":null,"orient":"none","legendX":82,"legendY":-40,"direction":"horizontal","columns":3,"symbolType":"M-1,0H1M0,-1V1","symbolSize":64,"symbolStrokeWidth":1.5,"columnPadding":0,"rowPadding":-2}}}},
 {"data":{"name":"km"},"transform":[{"filter":"datum.panel==='D' && (datum.strata==='CNS' || datum.strata==='HG-ESS')"}],"mark":{"type":"line","interpolate":"step-after","strokeWidth":1.7},
  "encoding":{"x":{"field":"time","type":"quantitative","title":"Time"},"y":{"field":"surv","type":"quantitative","title":"Survival probability"},
   "color":{"field":"strata","type":"nominal"},"strokeDash":{"field":"strata","type":"nominal"}}},
 {"data":{"name":"cens"},"transform":[{"filter":"datum.panel==='D'"}],"mark":{"type":"tick","orient":"vertical","size":8,"thickness":1.2},
  "encoding":{"x":{"field":"time","type":"quantitative","title":"Time"},"y":{"field":"surv","type":"quantitative","title":"Survival probability"},"color":{"field":"strata","type":"nominal"}}},
 {"data":{"values":[{}]},"mark":{"type":"tick","orient":"vertical","size":151.4,"thickness":1.3,"color":"#000"},"encoding":{"x":{"datum":-6,"type":"quantitative"},"y":{"datum":0.4805,"type":"quantitative"}}},
 {"data":{"values":[{}]},"mark":{"type":"text","text":"D","fontSize":24,"fontWeight":"bold","align":"left","baseline":"alphabetic"},"encoding":{"x":{"datum":-25.19,"type":"quantitative"},"y":{"datum":1.231,"type":"quantitative"}}},
 {"data":{"values":[{}]},"mark":{"type":"text","text":"PFS","fontSize":20,"fontWeight":"bold","align":"left","baseline":"alphabetic"},"encoding":{"x":{"datum":5.7,"type":"quantitative"},"y":{"datum":1.173,"type":"quantitative"}}},
 {"data":{"values":[{}]},"mark":{"type":"text","text":"p = 0.036","fontSize":6.5,"fontWeight":"bold","align":"center","baseline":"middle"},"encoding":{"x":{"datum":65.85,"type":"quantitative"},"y":{"datum":0.79,"type":"quantitative"}}}
]},
{"width":282,"height":166,"title":{"text":"Number at risk","subtitle":"OS according to Type of tumour - All patients","offset":-117.5,"subtitlePadding":71},"layer":[
 {"data":{"name":"risk"},"transform":[{"filter":"datum.panel==='C'"}],"mark":{"type":"text","fontSize":6.5,"fontWeight":"bold","align":"center","baseline":"middle"},
  "encoding":{"x":{"field":"time","type":"quantitative","scale":{"domain":[-6,126],"nice":false,"zero":false},"axis":null},"y":{"field":"strata","type":"nominal","scale":{"type":"point","domain":["URCS","CCSK","CNS","HG-ESS","Bone"],"range":[48,91],"padding":0,"round":false},"axis":null},"text":{"field":"n","type":"nominal"}}},
 {"data":{"name":"risk"},"transform":[{"filter":"datum.panel==='C' && datum.time===0"}],"mark":{"type":"tick","orient":"horizontal","size":10,"thickness":3},
  "encoding":{"x":{"datum":-10.68,"type":"quantitative","axis":null},"y":{"field":"strata","type":"nominal","axis":null},
   "color":{"field":"strata","type":"nominal","scale":{"domain":["URCS","CCSK","CNS","HG-ESS","Bone"],"range":["#000000","#000000","#808080","#8c8c8c","#1a1a1a"]},"legend":null}}}
]},
{"width":282,"height":166,"title":{"text":"Number at risk","subtitle":"PFS according to Type of tumour - All patients","offset":-117.5,"subtitlePadding":71},"layer":[
 {"data":{"name":"risk"},"transform":[{"filter":"datum.panel==='D'"}],"mark":{"type":"text","fontSize":6.5,"fontWeight":"bold","align":"center","baseline":"middle"},
  "encoding":{"x":{"field":"time","type":"quantitative","scale":{"domain":[-6,126],"nice":false,"zero":false},"axis":null},"y":{"field":"strata","type":"nominal","scale":{"type":"point","domain":["URCS","CCSK","CNS","HG-ESS","Bone"],"range":[48,91],"padding":0,"round":false},"axis":null},"text":{"field":"n","type":"nominal"}}},
 {"data":{"name":"risk"},"transform":[{"filter":"datum.panel==='D' && datum.time===0"}],"mark":{"type":"tick","orient":"horizontal","size":10,"thickness":3},
  "encoding":{"x":{"datum":-10.68,"type":"quantitative","axis":null},"y":{"field":"strata","type":"nominal","axis":null},
   "color":{"field":"strata","type":"nominal","scale":{"domain":["URCS","CCSK","CNS","HG-ESS","Bone"],"range":["#000000","#000000","#808080","#8c8c8c","#1a1a1a"]},"legend":null}}}
]},
{"width":282,"height":157,"layer":[
 {"data":{"name":"km"},"transform":[{"filter":"datum.panel==='E' && datum.strata==='CCSK'"}],"mark":{"type":"line","interpolate":"step-after","strokeWidth":2.2},
  "encoding":{"x":{"field":"time","type":"quantitative","title":"Time","scale":{"domain":[-6,126],"nice":false,"zero":false},"axis":{"values":[0,12,24,36,48,60,72,84,96,108,120],"tickCount":30,"labelOverlap":false,"labelFlush":false}},
   "y":{"field":"surv","type":"quantitative","title":"Survival probability","scale":{"domain":[-0.049,1.049],"nice":false,"zero":false},"axis":{"values":[0,0.25,0.5,0.75,1],"tickCount":30,"format":".2f","domain":false,"labelOverlap":false,"labelFlush":false}},
   "color":{"field":"strata","type":"nominal","scale":{"domain":["CCSK","All others"],"range":["#000000","#808080"]},"legend":{"title":null,"orient":"none","legendX":124,"legendY":-38,"direction":"vertical","symbolType":"M-1,0H1M0,-1V1","symbolSize":81,"symbolStrokeWidth":1.6,"rowPadding":-7}}}},
 {"data":{"name":"km"},"transform":[{"filter":"datum.panel==='E' && datum.strata!=='CCSK'"}],"mark":{"type":"line","interpolate":"step-after","strokeWidth":1.3},
  "encoding":{"x":{"field":"time","type":"quantitative","title":"Time"},"y":{"field":"surv","type":"quantitative","title":"Survival probability"},"color":{"field":"strata","type":"nominal"}}},
 {"data":{"name":"cens"},"transform":[{"filter":"datum.panel==='E'"}],"mark":{"type":"tick","orient":"vertical","size":8,"thickness":1.2},
  "encoding":{"x":{"field":"time","type":"quantitative","title":"Time"},"y":{"field":"surv","type":"quantitative","title":"Survival probability"},"color":{"field":"strata","type":"nominal"}}},
 {"data":{"values":[{}]},"mark":{"type":"tick","orient":"vertical","size":151.4,"thickness":1.3,"color":"#000"},"encoding":{"x":{"datum":-6,"type":"quantitative"},"y":{"datum":0.4805,"type":"quantitative"}}},
 {"data":{"values":[{}]},"mark":{"type":"text","text":"E","fontSize":24,"fontWeight":"bold","align":"left","baseline":"alphabetic"},"encoding":{"x":{"datum":-25.66,"type":"quantitative"},"y":{"datum":1.217,"type":"quantitative"}}},
 {"data":{"values":[{}]},"mark":{"type":"text","text":"OS","fontSize":20,"fontWeight":"bold","align":"left","baseline":"alphabetic"},"encoding":{"x":{"datum":5.23,"type":"quantitative"},"y":{"datum":1.17,"type":"quantitative"}}},
 {"data":{"values":[{}]},"mark":{"type":"text","text":"p = 0.034","fontSize":6.5,"fontWeight":"bold","align":"center","baseline":"middle"},"encoding":{"x":{"datum":65.85,"type":"quantitative"},"y":{"datum":0.797,"type":"quantitative"}}}
]},
{"width":282,"height":157,"layer":[
 {"data":{"name":"km"},"transform":[{"filter":"datum.panel==='F' && datum.strata==='CCSK'"}],"mark":{"type":"line","interpolate":"step-after","strokeWidth":2.2},
  "encoding":{"x":{"field":"time","type":"quantitative","title":"Time","scale":{"domain":[-6,126],"nice":false,"zero":false},"axis":{"values":[0,12,24,36,48,60,72,84,96,108,120],"tickCount":30,"labelOverlap":false,"labelFlush":false}},
   "y":{"field":"surv","type":"quantitative","title":"Survival probability","scale":{"domain":[-0.049,1.049],"nice":false,"zero":false},"axis":{"values":[0,0.25,0.5,0.75,1],"tickCount":30,"format":".2f","domain":false,"labelOverlap":false,"labelFlush":false}},
   "color":{"field":"strata","type":"nominal","scale":{"domain":["CCSK","All others"],"range":["#000000","#808080"]},"legend":{"title":null,"orient":"none","legendX":125,"legendY":-38,"direction":"vertical","symbolType":"M-1,0H1M0,-1V1","symbolSize":81,"symbolStrokeWidth":1.6,"rowPadding":-7}}}},
 {"data":{"name":"km"},"transform":[{"filter":"datum.panel==='F' && datum.strata!=='CCSK'"}],"mark":{"type":"line","interpolate":"step-after","strokeWidth":1.3},
  "encoding":{"x":{"field":"time","type":"quantitative","title":"Time"},"y":{"field":"surv","type":"quantitative","title":"Survival probability"},"color":{"field":"strata","type":"nominal"}}},
 {"data":{"name":"cens"},"transform":[{"filter":"datum.panel==='F'"}],"mark":{"type":"tick","orient":"vertical","size":8,"thickness":1.2},
  "encoding":{"x":{"field":"time","type":"quantitative","title":"Time"},"y":{"field":"surv","type":"quantitative","title":"Survival probability"},"color":{"field":"strata","type":"nominal"}}},
 {"data":{"values":[{}]},"mark":{"type":"tick","orient":"vertical","size":151.4,"thickness":1.3,"color":"#000"},"encoding":{"x":{"datum":-6,"type":"quantitative"},"y":{"datum":0.4805,"type":"quantitative"}}},
 {"data":{"values":[{}]},"mark":{"type":"text","text":"F","fontSize":24,"fontWeight":"bold","align":"left","baseline":"alphabetic"},"encoding":{"x":{"datum":-25.19,"type":"quantitative"},"y":{"datum":1.217,"type":"quantitative"}}},
 {"data":{"values":[{}]},"mark":{"type":"text","text":"PFS","fontSize":20,"fontWeight":"bold","align":"left","baseline":"alphabetic"},"encoding":{"x":{"datum":5.7,"type":"quantitative"},"y":{"datum":1.17,"type":"quantitative"}}},
 {"data":{"values":[{}]},"mark":{"type":"text","text":"p = 0.0072","fontSize":6.5,"fontWeight":"bold","align":"center","baseline":"middle"},"encoding":{"x":{"datum":66.55,"type":"quantitative"},"y":{"datum":0.8,"type":"quantitative"}}}
]},
{"width":282,"height":85,"title":{"text":"Number at risk","offset":-37.5},"layer":[
 {"data":{"name":"risk"},"transform":[{"filter":"datum.panel==='E'"}],"mark":{"type":"text","fontSize":6.5,"fontWeight":"bold","align":"center","baseline":"middle"},
  "encoding":{"x":{"field":"time","type":"quantitative","scale":{"domain":[-6,126],"nice":false,"zero":false},"axis":null},"y":{"field":"strata","type":"nominal","scale":{"type":"point","domain":["CCSK","All others"],"range":[55.7,75],"padding":0,"round":false},"axis":null},"text":{"field":"n","type":"nominal"}}},
 {"data":{"name":"risk"},"transform":[{"filter":"datum.panel==='E' && datum.time===0"}],"mark":{"type":"tick","orient":"horizontal","size":10,"thickness":3},
  "encoding":{"x":{"datum":-10.68,"type":"quantitative","axis":null},"y":{"field":"strata","type":"nominal","axis":null},
   "color":{"field":"strata","type":"nominal","scale":{"domain":["CCSK","All others"],"range":["#000000","#808080"]},"legend":null}}}
]},
{"width":282,"height":85,"title":{"text":"Number at risk","offset":-37.5},"layer":[
 {"data":{"name":"risk"},"transform":[{"filter":"datum.panel==='F'"}],"mark":{"type":"text","fontSize":6.5,"fontWeight":"bold","align":"center","baseline":"middle"},
  "encoding":{"x":{"field":"time","type":"quantitative","scale":{"domain":[-6,126],"nice":false,"zero":false},"axis":null},"y":{"field":"strata","type":"nominal","scale":{"type":"point","domain":["CCSK","All others"],"range":[55.7,75],"padding":0,"round":false},"axis":null},"text":{"field":"n","type":"nominal"}}},
 {"data":{"name":"risk"},"transform":[{"filter":"datum.panel==='F' && datum.time===0"}],"mark":{"type":"tick","orient":"horizontal","size":10,"thickness":3},
  "encoding":{"x":{"datum":-10.68,"type":"quantitative","axis":null},"y":{"field":"strata","type":"nominal","axis":null},
   "color":{"field":"strata","type":"nominal","scale":{"domain":["CCSK","All others"],"range":["#000000","#808080"]},"legend":null}}}
]}
]
}
